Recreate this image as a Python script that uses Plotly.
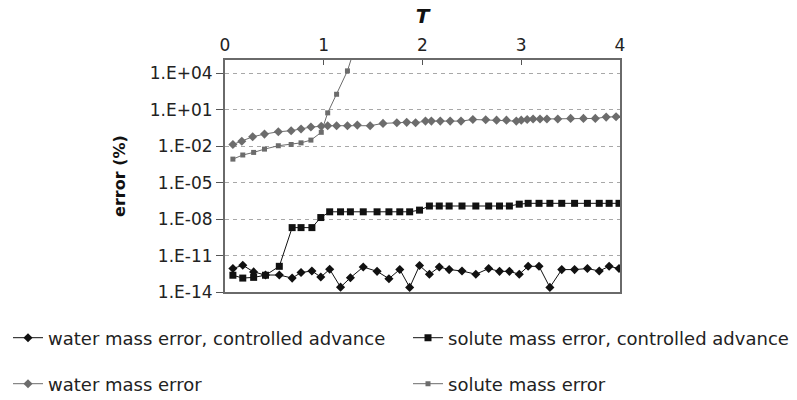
import plotly.graph_objects as go

# ---- data ----
t_ctrl = [0.08, 0.18, 0.29, 0.41, 0.55, 0.68, 0.77, 0.88, 0.97, 1.06, 1.17, 1.27,
          1.40, 1.54, 1.66, 1.77, 1.87, 1.97, 2.07, 2.17, 2.27, 2.40, 2.54, 2.67,
          2.78, 2.88, 2.98, 3.07, 3.18, 3.29, 3.41, 3.54, 3.67, 3.79, 3.89, 3.99]
water_ctrl = [8.5e-13, 1.6e-12, 4.5e-13, 2.5e-13, 2.5e-13, 1.4e-13, 4.0e-13, 5.4e-13,
              1.7e-13, 7.4e-13, 2.5e-14, 1.5e-13, 1.15e-12, 5.0e-13, 1.25e-13, 7.2e-13,
              2.4e-14, 1.5e-12, 2.9e-13, 1.15e-12, 7.0e-13, 5.4e-13, 2.9e-13, 8.5e-13,
              5.0e-13, 5.0e-13, 2.9e-13, 1.3e-12, 1.3e-12, 2.4e-14, 7.0e-13, 7.0e-13,
              8.5e-13, 5.4e-13, 1.3e-12, 8.5e-13]
solute_ctrl = [2.4e-13, 1.4e-13, 1.6e-13, 2.4e-13, 1.3e-12, 2.0e-9, 2.0e-9, 2.0e-9,
               1.35e-8, 4.0e-8, 4.0e-8, 4.0e-8, 4.0e-8, 4.0e-8, 4.0e-8, 4.0e-8,
               4.0e-8, 5.5e-8, 1.2e-7, 1.2e-7, 1.2e-7, 1.2e-7, 1.2e-7, 1.2e-7,
               1.2e-7, 1.2e-7, 1.7e-7, 2.0e-7, 2.0e-7, 2.0e-7, 2.0e-7, 2.0e-7,
               2.0e-7, 2.0e-7, 2.0e-7, 2.0e-7]

t_water = [0.08, 0.17, 0.28, 0.40, 0.54, 0.67, 0.77, 0.87, 0.975, 1.04, 1.13, 1.24,
           1.34, 1.47, 1.60, 1.74, 1.84, 1.93, 2.03, 2.09, 2.18, 2.28, 2.39, 2.51,
           2.64, 2.75, 2.85, 2.95, 3.00, 3.06, 3.12, 3.19, 3.26, 3.37, 3.50, 3.63,
           3.75, 3.86, 3.96]
water = [0.014, 0.026, 0.06, 0.1, 0.155, 0.19, 0.26, 0.38, 0.44, 0.49, 0.49, 0.49,
         0.55, 0.49, 0.76, 0.85, 0.93, 0.85, 1.17, 1.17, 1.17, 1.17, 1.17, 1.6,
         1.5, 1.4, 1.4, 1.17, 1.4, 1.6, 1.75, 1.75, 1.75, 1.75, 1.95, 1.95,
         1.95, 2.5, 2.7]

t_solute = [0.08, 0.18, 0.29, 0.40, 0.54, 0.67, 0.77, 0.87, 0.975, 1.04, 1.13, 1.24, 1.34]
solute = [8.7e-4, 1.9e-3, 3.1e-3, 5.8e-3, 0.011, 0.014, 0.019, 0.032, 0.14,
          5.6, 190, 1.6e4, 6e6]

y_tickvals = [1e4, 1e1, 1e-2, 1e-5, 1e-8, 1e-11, 1e-14]
y_ticktext = ["1.E+04", "1.E+01", "1.E-02", "1.E-05", "1.E-08", "1.E-11", "1.E-14"]
x_tickvals = [0, 1, 2, 3, 4]

names = ["water mass error, controlled advance", "solute mass error, controlled advance",
         "water mass error", "solute mass error"]

BLACK = "#111111"
GRAY = "#6c6c6c"

fig = go.Figure()
fig.add_trace(go.Scatter(x=t_ctrl, y=water_ctrl, name=names[0], mode="lines+markers",
                         line=dict(color=BLACK, width=1),
                         marker=dict(symbol="diamond", size=7, color=BLACK),
                         legend="legend"))
fig.add_trace(go.Scatter(x=t_ctrl, y=solute_ctrl, name=names[1], mode="lines+markers",
                         line=dict(color=BLACK, width=1),
                         marker=dict(symbol="square", size=7, color=BLACK),
                         legend="legend2"))
fig.add_trace(go.Scatter(x=t_water, y=water, name=names[2], mode="lines+markers",
                         line=dict(color=GRAY, width=1),
                         marker=dict(symbol="diamond", size=7, color=GRAY),
                         legend="legend3"))
fig.add_trace(go.Scatter(x=t_solute, y=solute, name=names[3], mode="lines+markers",
                         line=dict(color=GRAY, width=1),
                         marker=dict(symbol="square", size=5, color=GRAY),
                         legend="legend4"))

W, H = 797, 400
ML, MR, MT, MB = 225, 177, 60, 108
pw, ph = W - ML - MR, H - MT - MB

def px_x(p):
    return (p - ML) / pw

def px_y(p):
    return (H - MB - p) / ph

legend_common = dict(orientation="h", xanchor="left", yanchor="middle",
                     font=dict(family="DejaVu Sans", size=18, color="#222"),
                     bgcolor="rgba(0,0,0,0)", borderwidth=0)

fig.update_layout(
    width=W, height=H,
    margin=dict(l=ML, r=MR, t=MT, b=MB, autoexpand=False),
    plot_bgcolor="white", paper_bgcolor="white",
    font=dict(family="DejaVu Sans", size=17, color="#222"),
    showlegend=True,
    legend=dict(x=px_x(8), y=px_y(338), **legend_common),
    legend2=dict(x=px_x(408), y=px_y(338), **legend_common),
    legend3=dict(x=px_x(8), y=px_y(384), **legend_common),
    legend4=dict(x=px_x(408), y=px_y(384), **legend_common),
)

fig.update_xaxes(
    side="top", range=[0, 4], tickvals=x_tickvals, ticktext=[str(v) for v in x_tickvals],
    ticks="inside", ticklen=5, tickcolor="#555", tickwidth=1,
    showline=True, linecolor="#6a6a6a", linewidth=2, mirror=True,
    showgrid=False, zeroline=False,
    title=dict(text="<b><i>T</i></b>", font=dict(size=20, color="#111"), standoff=6),
)
fig.update_yaxes(
    type="log", range=[-14, 5.1], tickvals=y_tickvals, ticktext=y_ticktext,
    ticks="outside", ticklen=7, tickcolor="#555", tickwidth=1,
    showline=True, linecolor="#6a6a6a", linewidth=2, mirror=True,
    showgrid=True, gridcolor="#a8a8a8", gridwidth=1, griddash="4px,4px",
    zeroline=False,
    title=dict(text="<b>error (%)</b>", font=dict(size=16, color="#111"), standoff=20),
)

fig.write_html("out.html")
